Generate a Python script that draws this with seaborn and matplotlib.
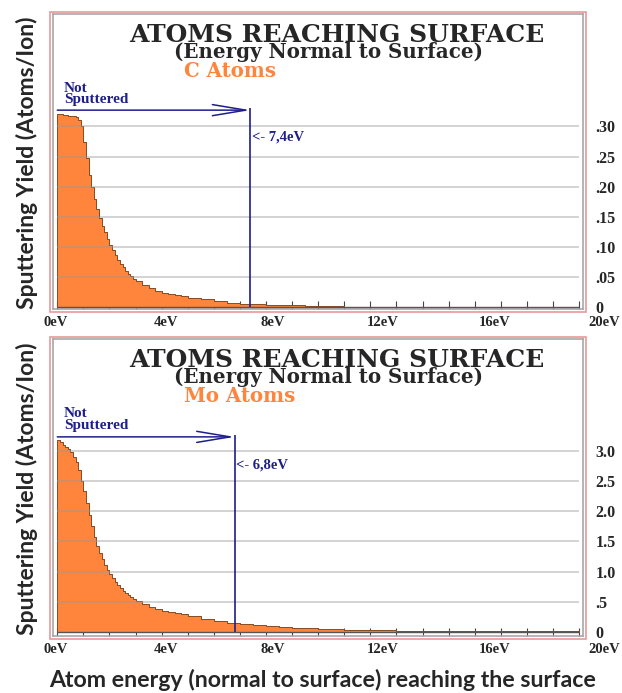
import matplotlib
matplotlib.use("Agg")
import matplotlib.pyplot as plt
import seaborn as sns
import numpy as np
import pandas as pd
from matplotlib.patches import Rectangle

sns.set_style("white")
plt.rcParams['font.family'] = ['DejaVu Serif']

# bin edges (eV): 0.1 eV bins to 3 eV, 0.25 eV to 5 eV, then wider
fine_edges = np.round(np.arange(0, 3.0, 0.1), 2)
quarter_edges = np.arange(3.0, 5.0, 0.25)

# C atoms, yield per bin (atoms/ion)
c_fine = [0.320, 0.320, 0.319, 0.319, 0.318, 0.318, 0.317, 0.315, 0.311, 0.301,
          0.274, 0.247, 0.220, 0.200, 0.179, 0.163, 0.148, 0.135, 0.124, 0.113,
          0.103, 0.094, 0.086, 0.078, 0.072, 0.066, 0.060, 0.055, 0.051, 0.047]
c_quarter = [0.043, 0.037, 0.031, 0.027, 0.024, 0.022, 0.020, 0.018]
c_tail_edges = np.arange(5.0, 12.5, 0.5)
c_tail = [0.0155, 0.0125, 0.0095, 0.0072, 0.0055, 0.0045, 0.0038, 0.0032,
          0.0028, 0.0024, 0.0020, 0.0017, 0.0008, 0.0005]

# Mo atoms
mo_fine = [3.18, 3.14, 3.10, 3.06, 3.03, 2.98, 2.90, 2.82, 2.68, 2.50,
           2.33, 2.13, 1.94, 1.75, 1.57, 1.43, 1.30, 1.21, 1.11, 1.03,
           0.96, 0.90, 0.835, 0.78, 0.73, 0.685, 0.647, 0.614, 0.58, 0.548]
mo_quarter = [0.51, 0.465, 0.42, 0.385, 0.355, 0.335, 0.31, 0.29]
mo_tail_edges = np.concatenate([np.arange(5.0, 10.0, 0.5), np.arange(10.0, 21.0, 1.0)])
mo_tail = [0.26, 0.22, 0.185, 0.155, 0.13, 0.11, 0.095, 0.082, 0.072, 0.063,
           0.052, 0.040, 0.028, 0.022, 0.020, 0.018, 0.017, 0.016, 0.012, 0.011]

c_edges = np.concatenate([fine_edges, quarter_edges, c_tail_edges])
c_vals = np.array(c_fine + c_quarter + c_tail)
mo_edges = np.concatenate([fine_edges, quarter_edges, mo_tail_edges])
mo_vals = np.array(mo_fine + mo_quarter + mo_tail)

c_ticks = [0, 0.05, 0.10, 0.15, 0.20, 0.25, 0.30]
c_ticklabels = ['0', '.05', '.10', '.15', '.20', '.25', '.30']
mo_ticks = [0, 0.5, 1.0, 1.5, 2.0, 2.5, 3.0]
mo_ticklabels = ['0', '.5', '1.0', '1.5', '2.0', '2.5', '3.0']

xlabels = ['0eV', '4eV', '8eV', '12eV', '16eV', '20eV']
xlabel_pos = [-0.05, 4.15, 8.27, 12.48, 16.77, 20.98]

c_cutoff, mo_cutoff = 7.4, 6.8

ORANGE = '#FF843C'
EDGE = '#8a4a20'
NAVY = '#1e1e8c'

W, H = 622, 693
fig = plt.figure(figsize=(W / 100, H / 100), dpi=100)


def fx(px):
    return px / W


def fy(py):
    return 1 - py / H


def panel(top, bottom, edges, vals, ylim, ticks, ticklabels, cutoff, arrow_y,
          label_y, cut_label, atom_label, text_top):
    ax = fig.add_axes([fx(53), fy(bottom), fx(583) - fx(53), fy(top) - fy(bottom)])
    centers = (edges[:-1] + edges[1:]) / 2
    df = pd.DataFrame({'energy': centers, 'yield': vals})
    sns.histplot(data=df, x='energy', weights='yield', bins=list(edges), stat='count',
                 element='step', fill=True, color=ORANGE, alpha=1, edgecolor=EDGE,
                 linewidth=0.7, ax=ax, zorder=2)
    ax.set_xlabel('')
    ax.set_ylabel('')
    # grid lines (drawn over the fill, as in the original)
    ax.hlines(ticks[1:], 0, 20, color='#9a9a9a', alpha=0.55, lw=1.1, zorder=3)
    ax.hlines(0, 0, 20, color='#555555', lw=1, zorder=3)
    # x ticks every 1 eV; labels are placed as annotations below the axis
    ax.set_xticks(np.arange(0, 21, 1))
    ax.set_xticklabels([])
    ax.tick_params(axis='x', direction='in', length=6, width=0.8,
                   color='#444444', bottom=True)
    for pos, lab in zip(xlabel_pos, xlabels):
        ax.annotate(lab, xy=(pos, 0), xycoords=('data', 'axes fraction'),
                    xytext=(0, -9.5), textcoords='offset points', ha='center',
                    va='center', fontfamily='Liberation Serif', fontweight='bold',
                    fontsize=10.5, annotation_clip=False)
    ax.yaxis.tick_right()
    ax.set_yticks(ticks)
    ax.set_yticklabels(ticklabels, fontfamily='Liberation Serif', fontweight='bold',
                       fontsize=11.5, ha='left')
    ax.tick_params(axis='y', length=0, pad=9)
    ax.set_xlim(-0.165, 20.15)
    ax.set_ylim(*ylim)
    for s in ax.spines.values():
        s.set_color('#a8a8a8')
        s.set_linewidth(1.2)
    # cut-off marker
    ax.vlines(cutoff, 0, arrow_y * 1.01, color=NAVY, lw=1.2, zorder=4)
    ax.annotate('', xy=(cutoff, arrow_y), xytext=(0, arrow_y),
                arrowprops=dict(arrowstyle='->,head_length=1.2,head_width=0.2',
                                color=NAVY, lw=1.1, shrinkA=0, shrinkB=0,
                                mutation_scale=20), zorder=4)
    ax.text(cutoff + 0.06, label_y, cut_label, color=NAVY, fontfamily='Liberation Serif',
            fontweight='bold', fontsize=10.5, va='center', ha='left')
    # outer pink frame
    fig.add_artist(Rectangle((fx(50), fy(bottom + 3)), fx(586) - fx(50),
                             fy(top - 2) - fy(bottom + 3), transform=fig.transFigure,
                             fill=False, edgecolor='#e89a9a', lw=1.2))
    # titles
    fig.text(fx(337), fy(text_top), 'ATOMS REACHING SURFACE', ha='center', va='top',
             fontsize=18, fontweight='bold', fontfamily='DejaVu Serif')
    fig.text(fx(329), fy(text_top + 19), '(Energy Normal to Surface)', ha='center',
             va='top', fontsize=14.3, fontweight='bold', fontfamily='DejaVu Serif')
    fig.text(fx(184), fy(text_top + 38), atom_label, ha='left', va='top',
             fontsize=14.2, fontweight='bold', fontfamily='DejaVu Serif', color=ORANGE)
    fig.text(fx(64), fy(text_top + 59), 'Not\nSputtered', ha='left', va='top',
             fontsize=11, fontweight='bold', fontfamily='Liberation Serif',
             color=NAVY, linespacing=0.85)
    # y label
    fig.text(fx(27), fy((top + bottom) / 2 + 1), 'Sputtering Yield (Atoms/Ion)',
             rotation=90, ha='center', va='center', fontsize=16.5, fontweight='bold',
             fontfamily='Lato')
    return ax


panel(14, 309, c_edges, c_vals, (-0.0033, 0.4867), c_ticks, c_ticklabels,
      c_cutoff, 0.327, 0.282, '<- 7,4eV', 'C Atoms', 23)
panel(339, 636, mo_edges, mo_vals, (-0.066, 4.85), mo_ticks, mo_ticklabels,
      mo_cutoff, 3.23, 2.76, '<- 6,8eV', 'Mo Atoms', 348)

fig.text(fx(323), fy(680), 'Atom energy (normal to surface) reaching the surface',
         ha='center', va='center', fontsize=16.7, fontweight='bold', fontfamily='Lato')

fig.savefig('out.png', dpi=100)
